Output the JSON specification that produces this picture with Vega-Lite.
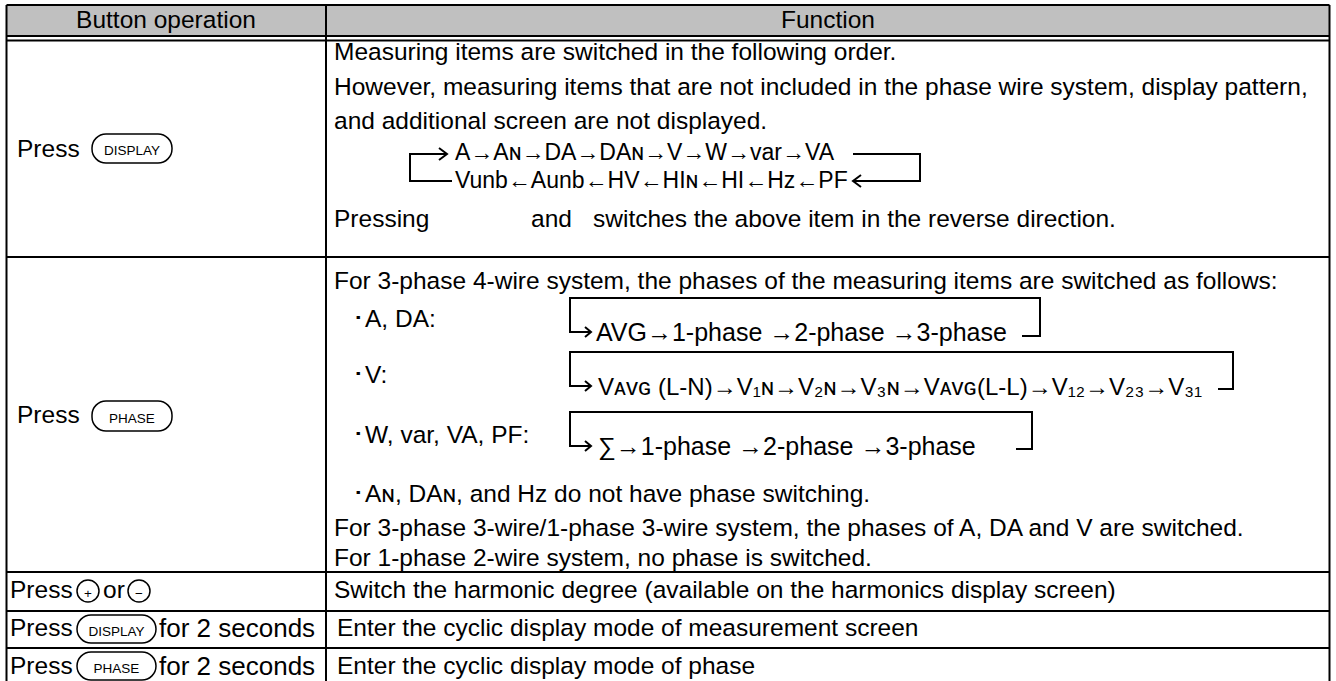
{
  "$schema": "https://vega.github.io/schema/vega-lite/v6.json",
  "width": 1336,
  "height": 681,
  "autosize": {"type": "none"},
  "padding": 0,
  "background": "white",
  "config": {"view": {"stroke": null}},
  "datasets": {
    "fills": [
      {"x": 6.5, "x2": 1329.5, "y": 5, "y2": 36}
    ],
    "rules": [
      {"x": 6.5, "x2": 1329.5, "y": 5, "y2": 5},
      {"x": 6.5, "x2": 1329.5, "y": 36, "y2": 36},
      {"x": 6.5, "x2": 1329.5, "y": 40.5, "y2": 40.5},
      {"x": 6.5, "x2": 6.5, "y": 5, "y2": 681},
      {"x": 1329.5, "x2": 1329.5, "y": 5, "y2": 681},
      {"x": 326, "x2": 326, "y": 5, "y2": 681},
      {"x": 6.5, "x2": 1329.5, "y": 257, "y2": 257},
      {"x": 6.5, "x2": 1329.5, "y": 572, "y2": 572},
      {"x": 6.5, "x2": 1329.5, "y": 611, "y2": 611},
      {"x": 6.5, "x2": 1329.5, "y": 648, "y2": 648}
    ],
    "paths": [
      {"pid": "c1", "seq": 1, "x": 452, "y": 181},
      {"pid": "c1", "seq": 2, "x": 410, "y": 181},
      {"pid": "c1", "seq": 3, "x": 410, "y": 154},
      {"pid": "c1", "seq": 4, "x": 447, "y": 154},
      {"pid": "h1", "seq": 1, "x": 439, "y": 148},
      {"pid": "h1", "seq": 2, "x": 447, "y": 154},
      {"pid": "h1", "seq": 3, "x": 439, "y": 160},
      {"pid": "c2", "seq": 1, "x": 853, "y": 154},
      {"pid": "c2", "seq": 2, "x": 920, "y": 154},
      {"pid": "c2", "seq": 3, "x": 920, "y": 181},
      {"pid": "c2", "seq": 4, "x": 853, "y": 181},
      {"pid": "h2", "seq": 1, "x": 861, "y": 175},
      {"pid": "h2", "seq": 2, "x": 853, "y": 181},
      {"pid": "h2", "seq": 3, "x": 861, "y": 187},
      {"pid": "b1", "seq": 1, "x": 1022, "y": 336},
      {"pid": "b1", "seq": 2, "x": 1040, "y": 336},
      {"pid": "b1", "seq": 3, "x": 1040, "y": 298},
      {"pid": "b1", "seq": 4, "x": 570, "y": 298},
      {"pid": "b1", "seq": 5, "x": 570, "y": 332},
      {"pid": "b1", "seq": 6, "x": 591, "y": 332},
      {"pid": "a1", "seq": 1, "x": 585, "y": 327},
      {"pid": "a1", "seq": 2, "x": 591, "y": 332},
      {"pid": "a1", "seq": 3, "x": 585, "y": 337},
      {"pid": "b2", "seq": 1, "x": 1218, "y": 389},
      {"pid": "b2", "seq": 2, "x": 1233, "y": 389},
      {"pid": "b2", "seq": 3, "x": 1233, "y": 352},
      {"pid": "b2", "seq": 4, "x": 570, "y": 352},
      {"pid": "b2", "seq": 5, "x": 570, "y": 386},
      {"pid": "b2", "seq": 6, "x": 591, "y": 386},
      {"pid": "a2", "seq": 1, "x": 585, "y": 381},
      {"pid": "a2", "seq": 2, "x": 591, "y": 386},
      {"pid": "a2", "seq": 3, "x": 585, "y": 391},
      {"pid": "b3", "seq": 1, "x": 1016, "y": 449},
      {"pid": "b3", "seq": 2, "x": 1032, "y": 449},
      {"pid": "b3", "seq": 3, "x": 1032, "y": 412},
      {"pid": "b3", "seq": 4, "x": 570, "y": 412},
      {"pid": "b3", "seq": 5, "x": 570, "y": 446},
      {"pid": "b3", "seq": 6, "x": 591, "y": 446},
      {"pid": "a3", "seq": 1, "x": 585, "y": 441},
      {"pid": "a3", "seq": 2, "x": 591, "y": 446},
      {"pid": "a3", "seq": 3, "x": 585, "y": 451}
    ],
    "buttons": [
      {"x": 92, "x2": 172, "y": 134, "y2": 163},
      {"x": 92, "x2": 172, "y": 401, "y2": 431},
      {"x": 77, "x2": 156, "y": 615, "y2": 643},
      {"x": 77, "x2": 156, "y": 652, "y2": 680}
    ],
    "buttonLabels": [
      {"x": 132, "y": 151, "text": "DISPLAY"},
      {"x": 132, "y": 419, "text": "PHASE"},
      {"x": 116.5, "y": 632, "text": "DISPLAY"},
      {"x": 116.5, "y": 669, "text": "PHASE"},
      {"x": 88, "y": 594, "text": "+"},
      {"x": 139, "y": 594, "text": "−"}
    ],
    "circles": [
      {"x": 88, "y": 591},
      {"x": 139, "y": 591}
    ],
    "headers": [
      {"x": 166, "y": 21, "text": "Button operation"},
      {"x": 828, "y": 21, "text": "Function"}
    ],
    "texts": [
      {"x": 17, "y": 150, "text": "Press"},
      {"x": 17, "y": 416, "text": "Press"},
      {"x": 10, "y": 591, "text": "Press"},
      {"x": 103, "y": 591, "text": "or"},
      {"x": 10, "y": 629, "text": "Press"},
      {"x": 10, "y": 667, "text": "Press"},
      {"x": 334, "y": 53, "text": "Measuring items are switched in the following order."},
      {"x": 334, "y": 88, "text": "However, measuring items that are not included in the phase wire system, display pattern,"},
      {"x": 334, "y": 122, "text": "and additional screen are not displayed."},
      {"x": 334, "y": 220, "text": "Pressing"},
      {"x": 531, "y": 220, "text": "and"},
      {"x": 593, "y": 220, "text": "switches the above item in the reverse direction."},
      {"x": 334, "y": 282, "text": "For 3-phase 4-wire system, the phases of the measuring items are switched as follows:"},
      {"x": 352, "y": 320, "text": "･A, DA:"},
      {"x": 352, "y": 376, "text": "･V:"},
      {"x": 352, "y": 436, "text": "･W, var, VA, PF:"},
      {"x": 352, "y": 495, "text": "･Aɴ, DAɴ, and Hz do not have phase switching."},
      {"x": 334, "y": 529, "text": "For 3-phase 3-wire/1-phase 3-wire system, the phases of A, DA and V are switched."},
      {"x": 334, "y": 559, "text": "For 1-phase 2-wire system, no phase is switched."},
      {"x": 334, "y": 591, "text": "Switch the harmonic degree (available on the harmonics display screen)"},
      {"x": 337, "y": 629, "text": "Enter the cyclic display mode of measurement screen"},
      {"x": 337, "y": 667, "text": "Enter the cyclic display mode of phase"}
    ],
    "wideTexts": [
      {"x": 159, "y": 629, "text": "for 2 seconds"},
      {"x": 159, "y": 667, "text": "for 2 seconds"}
    ],
    "chainsTop": [
      {"x": 455, "y": 153, "text": "A→Aɴ→DA→DAɴ→V→W→var→VA"},
      {"x": 455, "y": 181, "text": "Vunb←Aunb←HV←HIɴ←HI←Hz←PF"}
    ],
    "chainsPhase": [
      {"x": 596, "y": 333, "text": "AVG→1-phase →2-phase →3-phase"},
      {"x": 598, "y": 447, "text": "∑→1-phase →2-phase →3-phase"}
    ],
    "chainsVolt": [
      {"x": 598, "y": 388, "text": "Vᴀᴠɢ (L-N)→V₁ɴ→V₂ɴ→V₃ɴ→Vᴀᴠɢ(L-L)→V₁₂→V₂₃→V₃₁"}
    ]
  },
  "layer": [
    {
      "data": {"name": "fills"},
      "mark": {"type": "rect", "fill": "#c0c0c0", "stroke": null},
      "encoding": {
        "x": {"field": "x", "type": "quantitative", "scale": {"domain": [0, 1336], "nice": false, "zero": false}, "axis": null},
        "x2": {"field": "x2"},
        "y": {"field": "y", "type": "quantitative", "scale": {"domain": [0, 681], "nice": false, "zero": false, "reverse": true}, "axis": null},
        "y2": {"field": "y2"}
      }
    },
    {
      "data": {"name": "rules"},
      "mark": {"type": "rule", "color": "#000000", "strokeWidth": 2},
      "encoding": {
        "x": {"field": "x", "type": "quantitative", "scale": {"domain": [0, 1336], "nice": false, "zero": false}, "axis": null},
        "x2": {"field": "x2"},
        "y": {"field": "y", "type": "quantitative", "scale": {"domain": [0, 681], "nice": false, "zero": false, "reverse": true}, "axis": null},
        "y2": {"field": "y2"}
      }
    },
    {
      "data": {"name": "paths"},
      "mark": {"type": "line", "color": "#000000", "strokeWidth": 2, "strokeJoin": "miter"},
      "encoding": {
        "x": {"field": "x", "type": "quantitative", "scale": {"domain": [0, 1336], "nice": false, "zero": false}, "axis": null},
        "y": {"field": "y", "type": "quantitative", "scale": {"domain": [0, 681], "nice": false, "zero": false, "reverse": true}, "axis": null},
        "detail": {"field": "pid", "type": "nominal"},
        "order": {"field": "seq", "type": "quantitative"}
      }
    },
    {
      "data": {"name": "buttons"},
      "mark": {"type": "rect", "fill": "white", "stroke": "#000000", "strokeWidth": 1.5, "cornerRadius": 14},
      "encoding": {
        "x": {"field": "x", "type": "quantitative", "scale": {"domain": [0, 1336], "nice": false, "zero": false}, "axis": null},
        "x2": {"field": "x2"},
        "y": {"field": "y", "type": "quantitative", "scale": {"domain": [0, 681], "nice": false, "zero": false, "reverse": true}, "axis": null},
        "y2": {"field": "y2"}
      }
    },
    {
      "data": {"name": "circles"},
      "mark": {"type": "point", "shape": "circle", "size": 484, "filled": false, "stroke": "#000000", "strokeWidth": 1.5, "opacity": 1},
      "encoding": {
        "x": {"field": "x", "type": "quantitative", "scale": {"domain": [0, 1336], "nice": false, "zero": false}, "axis": null},
        "y": {"field": "y", "type": "quantitative", "scale": {"domain": [0, 681], "nice": false, "zero": false, "reverse": true}, "axis": null}
      }
    },
    {
      "data": {"name": "buttonLabels"},
      "mark": {"type": "text", "font": "Liberation Sans", "fontSize": 13.5, "align": "center", "baseline": "middle", "color": "#000000"},
      "encoding": {
        "x": {"field": "x", "type": "quantitative", "scale": {"domain": [0, 1336], "nice": false, "zero": false}, "axis": null},
        "y": {"field": "y", "type": "quantitative", "scale": {"domain": [0, 681], "nice": false, "zero": false, "reverse": true}, "axis": null},
        "text": {"field": "text", "type": "nominal"}
      }
    },
    {
      "data": {"name": "headers"},
      "mark": {"type": "text", "font": "Liberation Sans", "fontSize": 24.5, "align": "center", "baseline": "middle", "color": "#000000"},
      "encoding": {
        "x": {"field": "x", "type": "quantitative", "scale": {"domain": [0, 1336], "nice": false, "zero": false}, "axis": null},
        "y": {"field": "y", "type": "quantitative", "scale": {"domain": [0, 681], "nice": false, "zero": false, "reverse": true}, "axis": null},
        "text": {"field": "text", "type": "nominal"}
      }
    },
    {
      "data": {"name": "texts"},
      "mark": {"type": "text", "font": "Liberation Sans", "fontSize": 24.5, "align": "left", "baseline": "middle", "color": "#000000"},
      "encoding": {
        "x": {"field": "x", "type": "quantitative", "scale": {"domain": [0, 1336], "nice": false, "zero": false}, "axis": null},
        "y": {"field": "y", "type": "quantitative", "scale": {"domain": [0, 681], "nice": false, "zero": false, "reverse": true}, "axis": null},
        "text": {"field": "text", "type": "nominal"}
      }
    },
    {
      "data": {"name": "wideTexts"},
      "mark": {"type": "text", "font": "Liberation Sans", "fontSize": 26, "align": "left", "baseline": "middle", "color": "#000000"},
      "encoding": {
        "x": {"field": "x", "type": "quantitative", "scale": {"domain": [0, 1336], "nice": false, "zero": false}, "axis": null},
        "y": {"field": "y", "type": "quantitative", "scale": {"domain": [0, 681], "nice": false, "zero": false, "reverse": true}, "axis": null},
        "text": {"field": "text", "type": "nominal"}
      }
    },
    {
      "data": {"name": "chainsTop"},
      "mark": {"type": "text", "font": "Liberation Sans", "fontSize": 23, "align": "left", "baseline": "middle", "color": "#000000"},
      "encoding": {
        "x": {"field": "x", "type": "quantitative", "scale": {"domain": [0, 1336], "nice": false, "zero": false}, "axis": null},
        "y": {"field": "y", "type": "quantitative", "scale": {"domain": [0, 681], "nice": false, "zero": false, "reverse": true}, "axis": null},
        "text": {"field": "text", "type": "nominal"}
      }
    },
    {
      "data": {"name": "chainsPhase"},
      "mark": {"type": "text", "font": "Liberation Sans", "fontSize": 25, "align": "left", "baseline": "middle", "color": "#000000"},
      "encoding": {
        "x": {"field": "x", "type": "quantitative", "scale": {"domain": [0, 1336], "nice": false, "zero": false}, "axis": null},
        "y": {"field": "y", "type": "quantitative", "scale": {"domain": [0, 681], "nice": false, "zero": false, "reverse": true}, "axis": null},
        "text": {"field": "text", "type": "nominal"}
      }
    },
    {
      "data": {"name": "chainsVolt"},
      "mark": {"type": "text", "font": "Liberation Sans", "fontSize": 24, "align": "left", "baseline": "middle", "color": "#000000"},
      "encoding": {
        "x": {"field": "x", "type": "quantitative", "scale": {"domain": [0, 1336], "nice": false, "zero": false}, "axis": null},
        "y": {"field": "y", "type": "quantitative", "scale": {"domain": [0, 681], "nice": false, "zero": false, "reverse": true}, "axis": null},
        "text": {"field": "text", "type": "nominal"}
      }
    }
  ]
}
